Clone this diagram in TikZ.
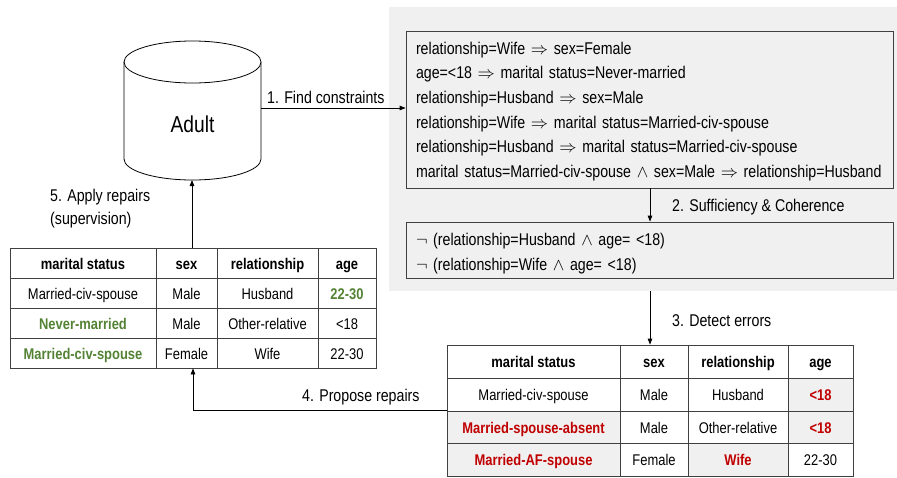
\documentclass[tikz,border=0pt]{standalone}
\usepackage{fontspec}
\setmainfont{Liberation Sans}[FakeStretch=0.835]
\usetikzlibrary{arrows.meta}
\definecolor{bggray}{HTML}{F0F0F0}
\definecolor{cellgray}{HTML}{F0F0F0}
\definecolor{okgreen}{HTML}{548235}
\definecolor{errred}{HTML}{C00000}
\definecolor{linec}{HTML}{404040}
\newcommand\tcell[7]{\node[cellsty,#6,minimum width={(#3)-(#2)},minimum height={(#5)-(#4)}] (#1) at ({((#2)+(#3))/2},{((#4)+(#5))/2}) {#7};}
\tikzset{
  cellsty/.style={draw=linec, line width=0.8pt, inner sep=0pt, text height=12.5pt, text depth=0pt, font=\fontsize{15.5}{18}\selectfont},
  head/.style={font=\fontsize{15.5}{18}\selectfont\bfseries},
  good/.style={text=okgreen, font=\fontsize{15.5}{18}\selectfont\bfseries},
  bad/.style={text=errred, fill=cellgray, font=\fontsize{15.5}{18}\selectfont\bfseries},
  flow/.style={draw=black, line width=0.8pt, -{Triangle[length=6pt,width=4.5pt]}},
  lbl/.style={anchor=west, inner sep=0pt, font=\fontsize{17}{23}\selectfont},
  rulebox/.style={draw=linec, line width=0.8pt, fill=bggray, inner xsep=10pt, inner ysep=0pt, align=left, font=\fontsize{17}{24.6}\selectfont},
}
\begin{document}
\begin{tikzpicture}[x=1pt,y=-1pt]
\useasboundingbox (0,0) rectangle (897,477);
% background panel
\node[fill=bggray, inner sep=0pt, minimum width=508, minimum height=284] (bg) at (643,149) {};
% database cylinder
\draw[line width=0.8pt, fill=white] (124,62) -- (124,159) arc[start angle=180,end angle=0,x radius=68.5,y radius=21] -- (261,62);
\draw[line width=0.8pt, fill=white] (192.5,62) ellipse[x radius=68.5,y radius=21];
\node[font=\fontsize{23}{28}\selectfont] (db) at (192.5,124) {Adult};
\coordinate (dbE) at (261,108);
\coordinate (dbS) at (192,180);
% constraint boxes
\node[rulebox, minimum width=487, minimum height=157, text width=467] (c1) at (649.5,109.5) {%
\rule{0pt}{16pt}relationship=Wife $\Rightarrow$ sex=Female\\
age=<18 $\Rightarrow$ marital status=Never-married\\
relationship=Husband $\Rightarrow$ sex=Male\\
relationship=Wife $\Rightarrow$ marital status=Married-civ-spouse\\
relationship=Husband $\Rightarrow$ marital status=Married-civ-spouse\\
marital status=Married-civ-spouse $\wedge$ sex=Male $\Rightarrow$ relationship=Husband};
\node[rulebox, minimum width=487, minimum height=56, text width=467] (c2) at (649.5,250) {%
\rule{0pt}{19pt}$\neg$ (relationship=Husband $\wedge$ age= <18)\\
$\neg$ (relationship=Wife $\wedge$ age= <18)};
% left table
\tcell{L00}{10}{156}{248}{278}{head}{marital status}
\tcell{L01}{156}{217}{248}{278}{head}{sex}
\tcell{L02}{217}{318}{248}{278}{head}{relationship}
\tcell{L03}{318}{376}{248}{278}{head}{age}
\tcell{L10}{10}{156}{278}{308}{}{Married-civ-spouse}
\tcell{L11}{156}{217}{278}{308}{}{Male}
\tcell{L12}{217}{318}{278}{308}{}{Husband}
\tcell{L13}{318}{376}{278}{308}{good}{22-30}
\tcell{L20}{10}{156}{308}{338}{good}{Never-married}
\tcell{L21}{156}{217}{308}{338}{}{Male}
\tcell{L22}{217}{318}{308}{338}{}{Other-relative}
\tcell{L23}{318}{376}{308}{338}{}{<18}
\tcell{L30}{10}{156}{338}{368}{good}{Married-civ-spouse}
\tcell{L31}{156}{217}{338}{368}{}{Female}
\tcell{L32}{217}{318}{338}{368}{}{Wife}
\tcell{L33}{318}{376}{338}{368}{}{22-30}
% right table
\tcell{R00}{447}{620}{345}{378}{head}{marital status}
\tcell{R01}{620}{688}{345}{378}{head}{sex}
\tcell{R02}{688}{788}{345}{378}{head}{relationship}
\tcell{R03}{788}{853}{345}{378}{head}{age}
\tcell{R10}{447}{620}{378}{411}{}{Married-civ-spouse}
\tcell{R11}{620}{688}{378}{411}{}{Male}
\tcell{R12}{688}{788}{378}{411}{}{Husband}
\tcell{R13}{788}{853}{378}{411}{bad}{<18}
\tcell{R20}{447}{620}{411}{443}{bad}{Married-spouse-absent}
\tcell{R21}{620}{688}{411}{443}{}{Male}
\tcell{R22}{688}{788}{411}{443}{}{Other-relative}
\tcell{R23}{788}{853}{411}{443}{bad}{<18}
\tcell{R30}{447}{620}{443}{476}{bad}{Married-AF-spouse}
\tcell{R31}{620}{688}{443}{476}{}{Female}
\tcell{R32}{688}{788}{443}{476}{bad}{Wife}
\tcell{R33}{788}{853}{443}{476}{}{22-30}
% connectors
\coordinate (a2x) at (650,0);
\coordinate (a4x) at (193,0);
\coordinate (a5x) at (192,0);
\draw[flow] (dbE) -- (dbE -| c1.west);
\draw[flow] (c1.south -| a2x) -- (c2.north -| a2x);
\draw[flow] (bg.south -| a2x) -- (R01.north -| a2x);
\draw[flow] (R20.north west) -- (R20.north west -| a4x) -- (L31.south -| a4x);
\draw[flow] (L01.north -| a5x) -- (dbS);
% labels
\node[lbl] (l1) at (267,97) {1. Find constraints};
\node[lbl] (l2) at (672,207) {2. Sufficiency \& Coherence};
\node[lbl] (l3) at (672,321) {3. Detect errors};
\node[lbl] (l4) at (302,397) {4. Propose repairs};
\node[lbl, align=left] (l5) at (50,208.5) {5. Apply repairs\\(supervision)};
\end{tikzpicture}
\end{document}
